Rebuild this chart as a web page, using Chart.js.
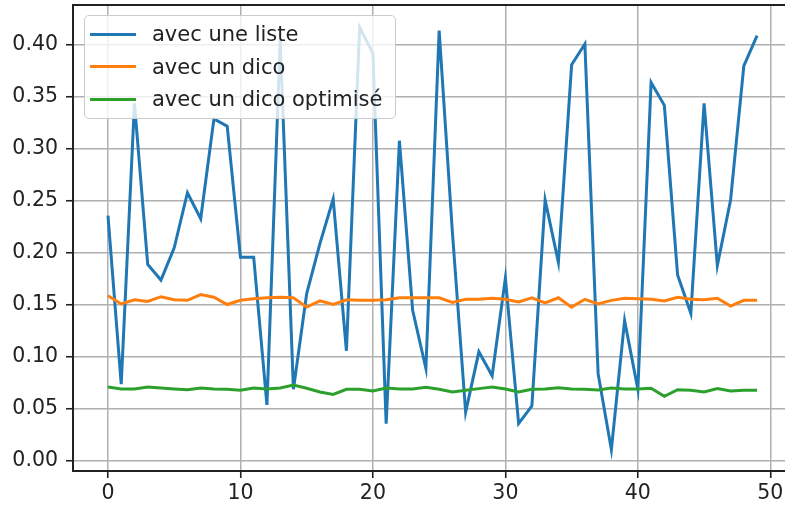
<!DOCTYPE html>
<html>
<head>
<meta charset="utf-8">
<script src="https://cdn.jsdelivr.net/npm/chart.js@4"></script>
<style>
  html, body { margin: 0; padding: 0; background: #fff; overflow: hidden; }
  #wrap { position: relative; width: 785px; height: 507px; overflow: hidden; }
  #legend {
    position: absolute; left: 84px; top: 15px; width: 312px; height: 104px;
    box-sizing: border-box; background: rgba(255,255,255,0.8);
    border: 1px solid #cccccc; border-radius: 5px; padding-top: 2px;
    font-family: 'DejaVu Sans', sans-serif; font-size: 21px; color: #222;
  }
  .row { display: flex; align-items: center; height: 32.5px; }
  .swatch { width: 46px; height: 3px; margin-left: 5px; }
  .label { margin-left: 16px; white-space: nowrap; }
</style>
</head>
<body>
<div id="wrap">
  <canvas id="chart" width="800" height="507"></canvas>
  <div id="legend"></div>
</div>
<script>
// run index (x axis)
const runs = [0, 1, 2, 3, 4, 5, 6, 7, 8, 9, 10, 11, 12, 13, 14, 15, 16, 17, 18, 19,
  20, 21, 22, 23, 24, 25, 26, 27, 28, 29, 30, 31, 32, 33, 34, 35, 36, 37, 38, 39,
  40, 41, 42, 43, 44, 45, 46, 47, 48, 49];

const seriesLabels = ['avec une liste', 'avec un dico', 'avec un dico optimisé'];
const seriesColors = ['#1f77b4', '#ff7f0e', '#2ca02c'];

const listeTimes = [0.236, 0.074, 0.344, 0.189, 0.174, 0.205, 0.258, 0.233, 0.329, 0.322,
  0.196, 0.196, 0.054, 0.405, 0.069, 0.161, 0.209, 0.252, 0.106, 0.417,
  0.392, 0.036, 0.308, 0.145, 0.089, 0.414, 0.22, 0.047, 0.105, 0.082,
  0.176, 0.036, 0.053, 0.251, 0.191, 0.381, 0.401, 0.084, 0.011, 0.135,
  0.069, 0.364, 0.342, 0.179, 0.142, 0.344, 0.188, 0.251, 0.380, 0.409];

const dicoTimes = [0.159, 0.151, 0.155, 0.1535, 0.158, 0.155, 0.1545, 0.160, 0.1575, 0.1505,
  0.1545, 0.156, 0.157, 0.1575, 0.157, 0.148, 0.154, 0.1505, 0.155, 0.1545,
  0.1545, 0.155, 0.157, 0.157, 0.157, 0.157, 0.1525, 0.1555, 0.1555, 0.1565,
  0.1555, 0.153, 0.157, 0.152, 0.157, 0.148, 0.1555, 0.151, 0.1545, 0.1565,
  0.156, 0.1555, 0.154, 0.1575, 0.1555, 0.155, 0.1565, 0.149, 0.1545, 0.1545];

const dicoOptTimes = [0.0712, 0.0693, 0.0693, 0.0712, 0.0702, 0.0693, 0.0686, 0.0702, 0.0693, 0.069,
  0.068, 0.0702, 0.0693, 0.0702, 0.073, 0.070, 0.0664, 0.0641, 0.069, 0.069,
  0.0673, 0.0702, 0.0693, 0.0693, 0.0709, 0.069, 0.0664, 0.068, 0.0696, 0.0712,
  0.0693, 0.0664, 0.069, 0.0693, 0.0705, 0.0693, 0.069, 0.0683, 0.0702, 0.0693,
  0.0693, 0.0699, 0.0622, 0.0686, 0.068, 0.0664, 0.0696, 0.0673, 0.068, 0.068];

const allSeries = [listeTimes, dicoTimes, dicoOptTimes];

const FONT = { family: "'DejaVu Sans', sans-serif", size: 20.5 };
const GRID = '#b0b0b0';
const INK = '#222222';

// matplotlib-style frame: top spine (the right one is cropped off in the original)
const topSpine = {
  id: 'topSpine',
  afterDraw(chart) {
    const { ctx, chartArea } = chart;
    ctx.save();
    ctx.strokeStyle = INK;
    ctx.lineWidth = 2;
    ctx.beginPath();
    ctx.moveTo(chartArea.left, chartArea.top);
    ctx.lineTo(chartArea.right, chartArea.top);
    ctx.stroke();
    ctx.restore();
  }
};

const datasets = allSeries.map((values, i) => ({
  label: seriesLabels[i],
  data: values.map((y, k) => ({ x: runs[k], y })),
  borderColor: seriesColors[i],
  backgroundColor: seriesColors[i],
  borderWidth: 3,
  pointRadius: 0,
  tension: 0,
  fill: false,
  order: allSeries.length - i,
}));

new Chart(document.getElementById('chart'), {
  type: 'line',
  data: { datasets },
  options: {
    responsive: false,
    animation: false,
    layout: { padding: { top: 5, right: 0, left: 0, bottom: 0 } },
    plugins: { legend: { display: false }, tooltip: { enabled: false } },
    scales: {
      x: {
        type: 'linear',
        min: -2.64,
        max: 52.24,
        grid: { color: GRID, lineWidth: 1.5, tickLength: 7, tickColor: INK, tickWidth: 1.6 },
        border: { color: INK, width: 2 },
        ticks: { stepSize: 10, includeBounds: false, color: INK, font: FONT, padding: 3, maxRotation: 0 },
        afterFit(scale) { scale.height = 36; scale.paddingLeft = 0; scale.paddingRight = 0; },
      },
      y: {
        min: -0.0096,
        max: 0.4385,
        grid: { color: GRID, lineWidth: 1.5, tickLength: 7, tickColor: INK, tickWidth: 1.6 },
        border: { color: INK, width: 2 },
        ticks: {
          stepSize: 0.05, includeBounds: false, color: INK, font: FONT, padding: 8,
          callback: (v) => v.toFixed(2),
        },
        afterFit(scale) { scale.width = 73; scale.paddingTop = 0; scale.paddingBottom = 0; },
      },
    },
  },
  plugins: [topSpine],
});

// legend drawn inside the axes like matplotlib's loc="upper left"
const legend = document.getElementById('legend');
seriesLabels.forEach((name, i) => {
  const row = document.createElement('div');
  row.className = 'row';
  const sw = document.createElement('span');
  sw.className = 'swatch';
  sw.style.background = seriesColors[i];
  const txt = document.createElement('span');
  txt.className = 'label';
  txt.textContent = name;
  row.append(sw, txt);
  legend.append(row);
});
</script>
</body>
</html>
